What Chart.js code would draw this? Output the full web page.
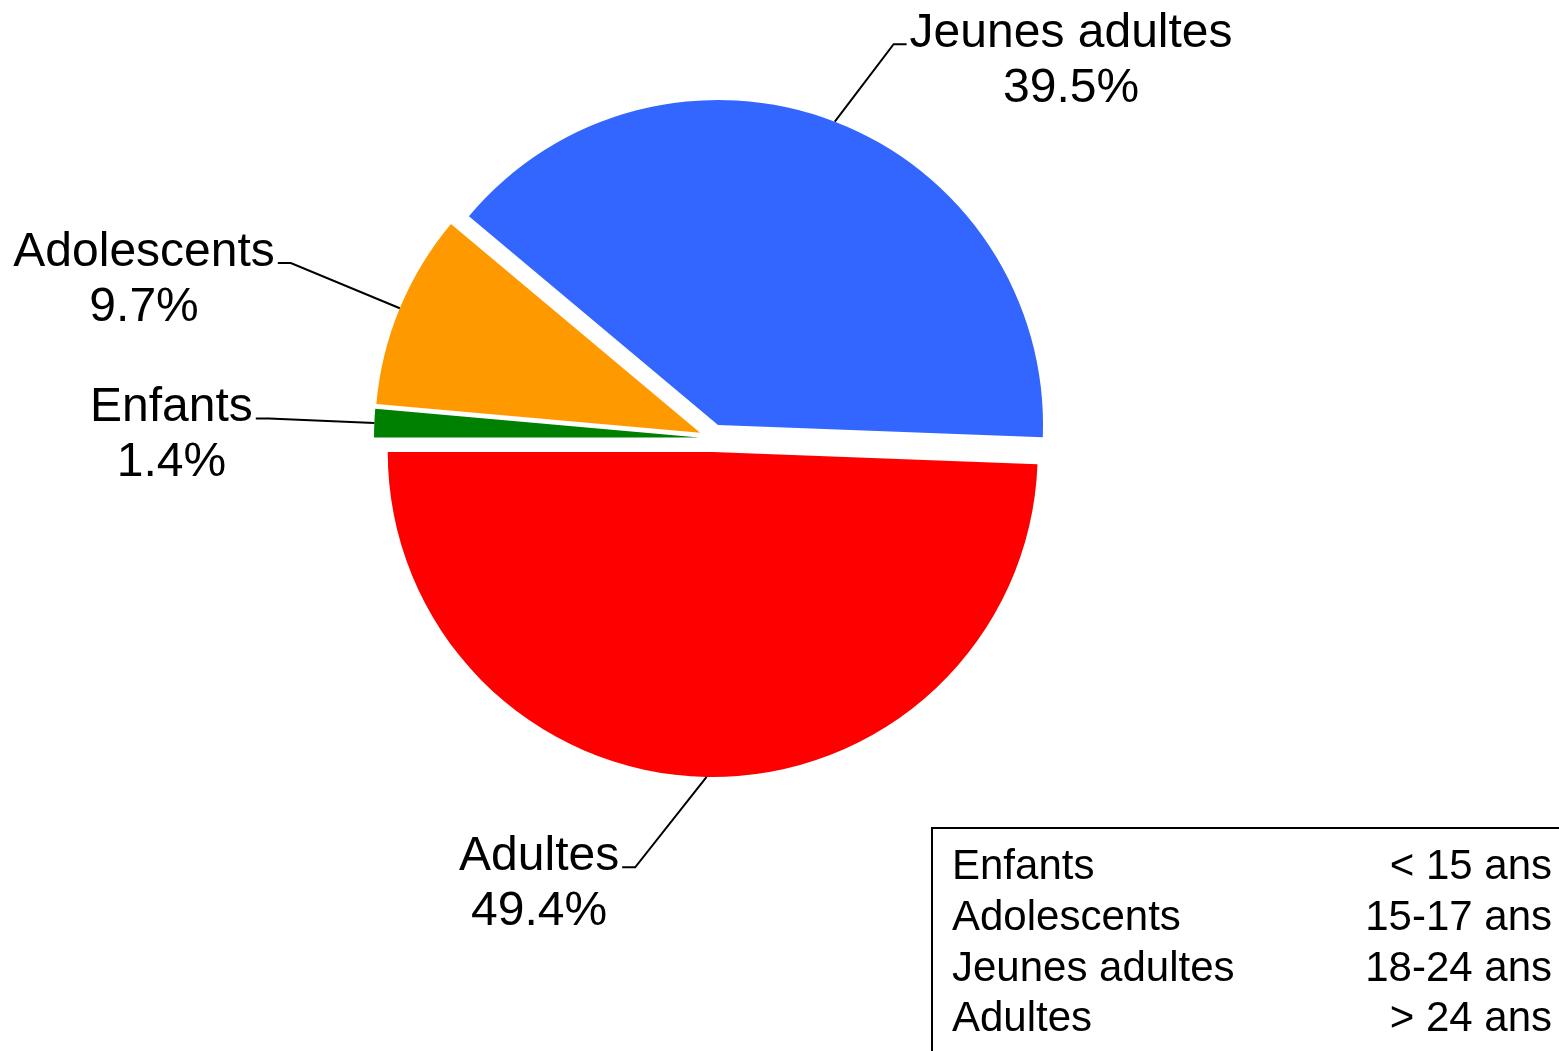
<!DOCTYPE html>
<html>
<head>
<meta charset="utf-8">
<title>Répartition par âge</title>
<script src="https://cdn.jsdelivr.net/npm/chart.js@4.4.1/dist/chart.umd.min.js"></script>
<style>
    html, body { margin: 0; padding: 0; background: #fff; }
    canvas { display: block; }
</style>
</head>
<body>
<canvas id="agePie" width="1559" height="1051"></canvas>
<script>
// data
const categories = ['Enfants', 'Adolescents', 'Jeunes adultes', 'Adultes'];
const shares = [1.4, 9.7, 39.5, 49.4];
const ageRanges = ['< 15 ans', '15-17 ans', '18-24 ans', '> 24 ans'];
const sliceColors = ['#008000', '#FF9900', '#3366FF', '#FF0000'];

const FONT = '"Liberation Sans", Arial, sans-serif';
const EXPLODE = 14; // px each slice is pulled out

// pull every slice out along its middle angle (without the radius change of the built-in offset)
const baseArcDraw = Chart.ArcElement.prototype.draw;
Chart.ArcElement.prototype.draw = function(ctx) {
    const mid = (this.startAngle + this.endAngle) / 2;
    ctx.save();
    ctx.translate(Math.cos(mid) * EXPLODE, Math.sin(mid) * EXPLODE);
    baseArcDraw.call(this, ctx);
    ctx.restore();
};

// outside labels with leader lines
const sliceLabels = {
    id: 'sliceLabels',
    afterDatasetsDraw(chart, args, opts) {
        const ctx = chart.ctx;
        const arcs = chart.getDatasetMeta(0).data;
        ctx.save();
        ctx.font = `${opts.fontSize}px ${FONT}`;
        ctx.fillStyle = '#000';
        ctx.strokeStyle = '#000';
        ctx.lineWidth = 2;
        arcs.forEach((arc, i) => {
            const mid = (arc.startAngle + arc.endAngle) / 2;
            const cx = arc.x + Math.cos(mid) * EXPLODE;
            const cy = arc.y + Math.sin(mid) * EXPLODE;
            const r = arc.outerRadius;
            const a2 = mid + opts.nudge[i] * Math.PI / 180;
            const sx = cx + Math.cos(mid) * r;
            const sy = cy + Math.sin(mid) * r;
            const ex = cx + Math.cos(a2) * r * opts.reach[i];
            const ey = cy + Math.sin(a2) * r * opts.reach[i];
            const dir = Math.cos(a2) >= 0 ? 1 : -1;
            const hx = ex + dir * 13;
            ctx.beginPath();
            ctx.moveTo(sx, sy);
            ctx.lineTo(ex, ey);
            ctx.lineTo(hx, ey);
            ctx.stroke();

            const line1 = categories[i];
            const line2 = shares[i].toFixed(1) + '%';
            const w = ctx.measureText(line1).width;
            const tx = hx + dir * 3;
            const centre = tx + dir * w / 2;
            ctx.textAlign = 'center';
            ctx.textBaseline = 'alphabetic';
            ctx.fillText(line1, centre, ey + 3);
            ctx.fillText(line2, centre, ey + 3 + opts.lineHeight);
        });
        ctx.restore();
    }
};

// age range box, bottom right
const ageBox = {
    id: 'ageBox',
    afterDraw(chart, args, opts) {
        const ctx = chart.ctx;
        ctx.save();
        ctx.strokeStyle = '#000';
        ctx.lineWidth = 2;
        ctx.strokeRect(opts.left, opts.top, chart.width - opts.left + 10, chart.height - opts.top + 10);
        ctx.font = `${opts.fontSize}px ${FONT}`;
        ctx.fillStyle = '#000';
        ctx.textBaseline = 'alphabetic';
        categories.forEach((name, i) => {
            const y = opts.firstBaseline + i * opts.rowHeight;
            ctx.textAlign = 'left';
            ctx.fillText(name, opts.left + 20, y);
            ctx.textAlign = 'right';
            ctx.fillText(ageRanges[i], opts.right, y);
        });
        ctx.restore();
    }
};

new Chart(document.getElementById('agePie'), {
    type: 'pie',
    data: {
        labels: categories,
        datasets: [{
            data: shares,
            backgroundColor: sliceColors,
            borderWidth: 0
        }]
    },
    options: {
        responsive: false,
        animation: false,
        events: [],
        rotation: 270,
        radius: 325,
        layout: {
            padding: { left: 0, right: 133, top: 0, bottom: 175 }
        },
        plugins: {
            legend: { display: false },
            tooltip: { enabled: false },
            sliceLabels: {
                fontSize: 48,
                lineHeight: 55,
                nudge: [0, 0, 3.7, 9.5],
                reach: [1.325, 1.363, 1.29, 1.3]
            },
            ageBox: {
                left: 932,
                top: 828,
                right: 1552,
                fontSize: 42,
                firstBaseline: 879,
                rowHeight: 50.8
            }
        }
    },
    plugins: [sliceLabels, ageBox]
});
</script>
</body>
</html>
